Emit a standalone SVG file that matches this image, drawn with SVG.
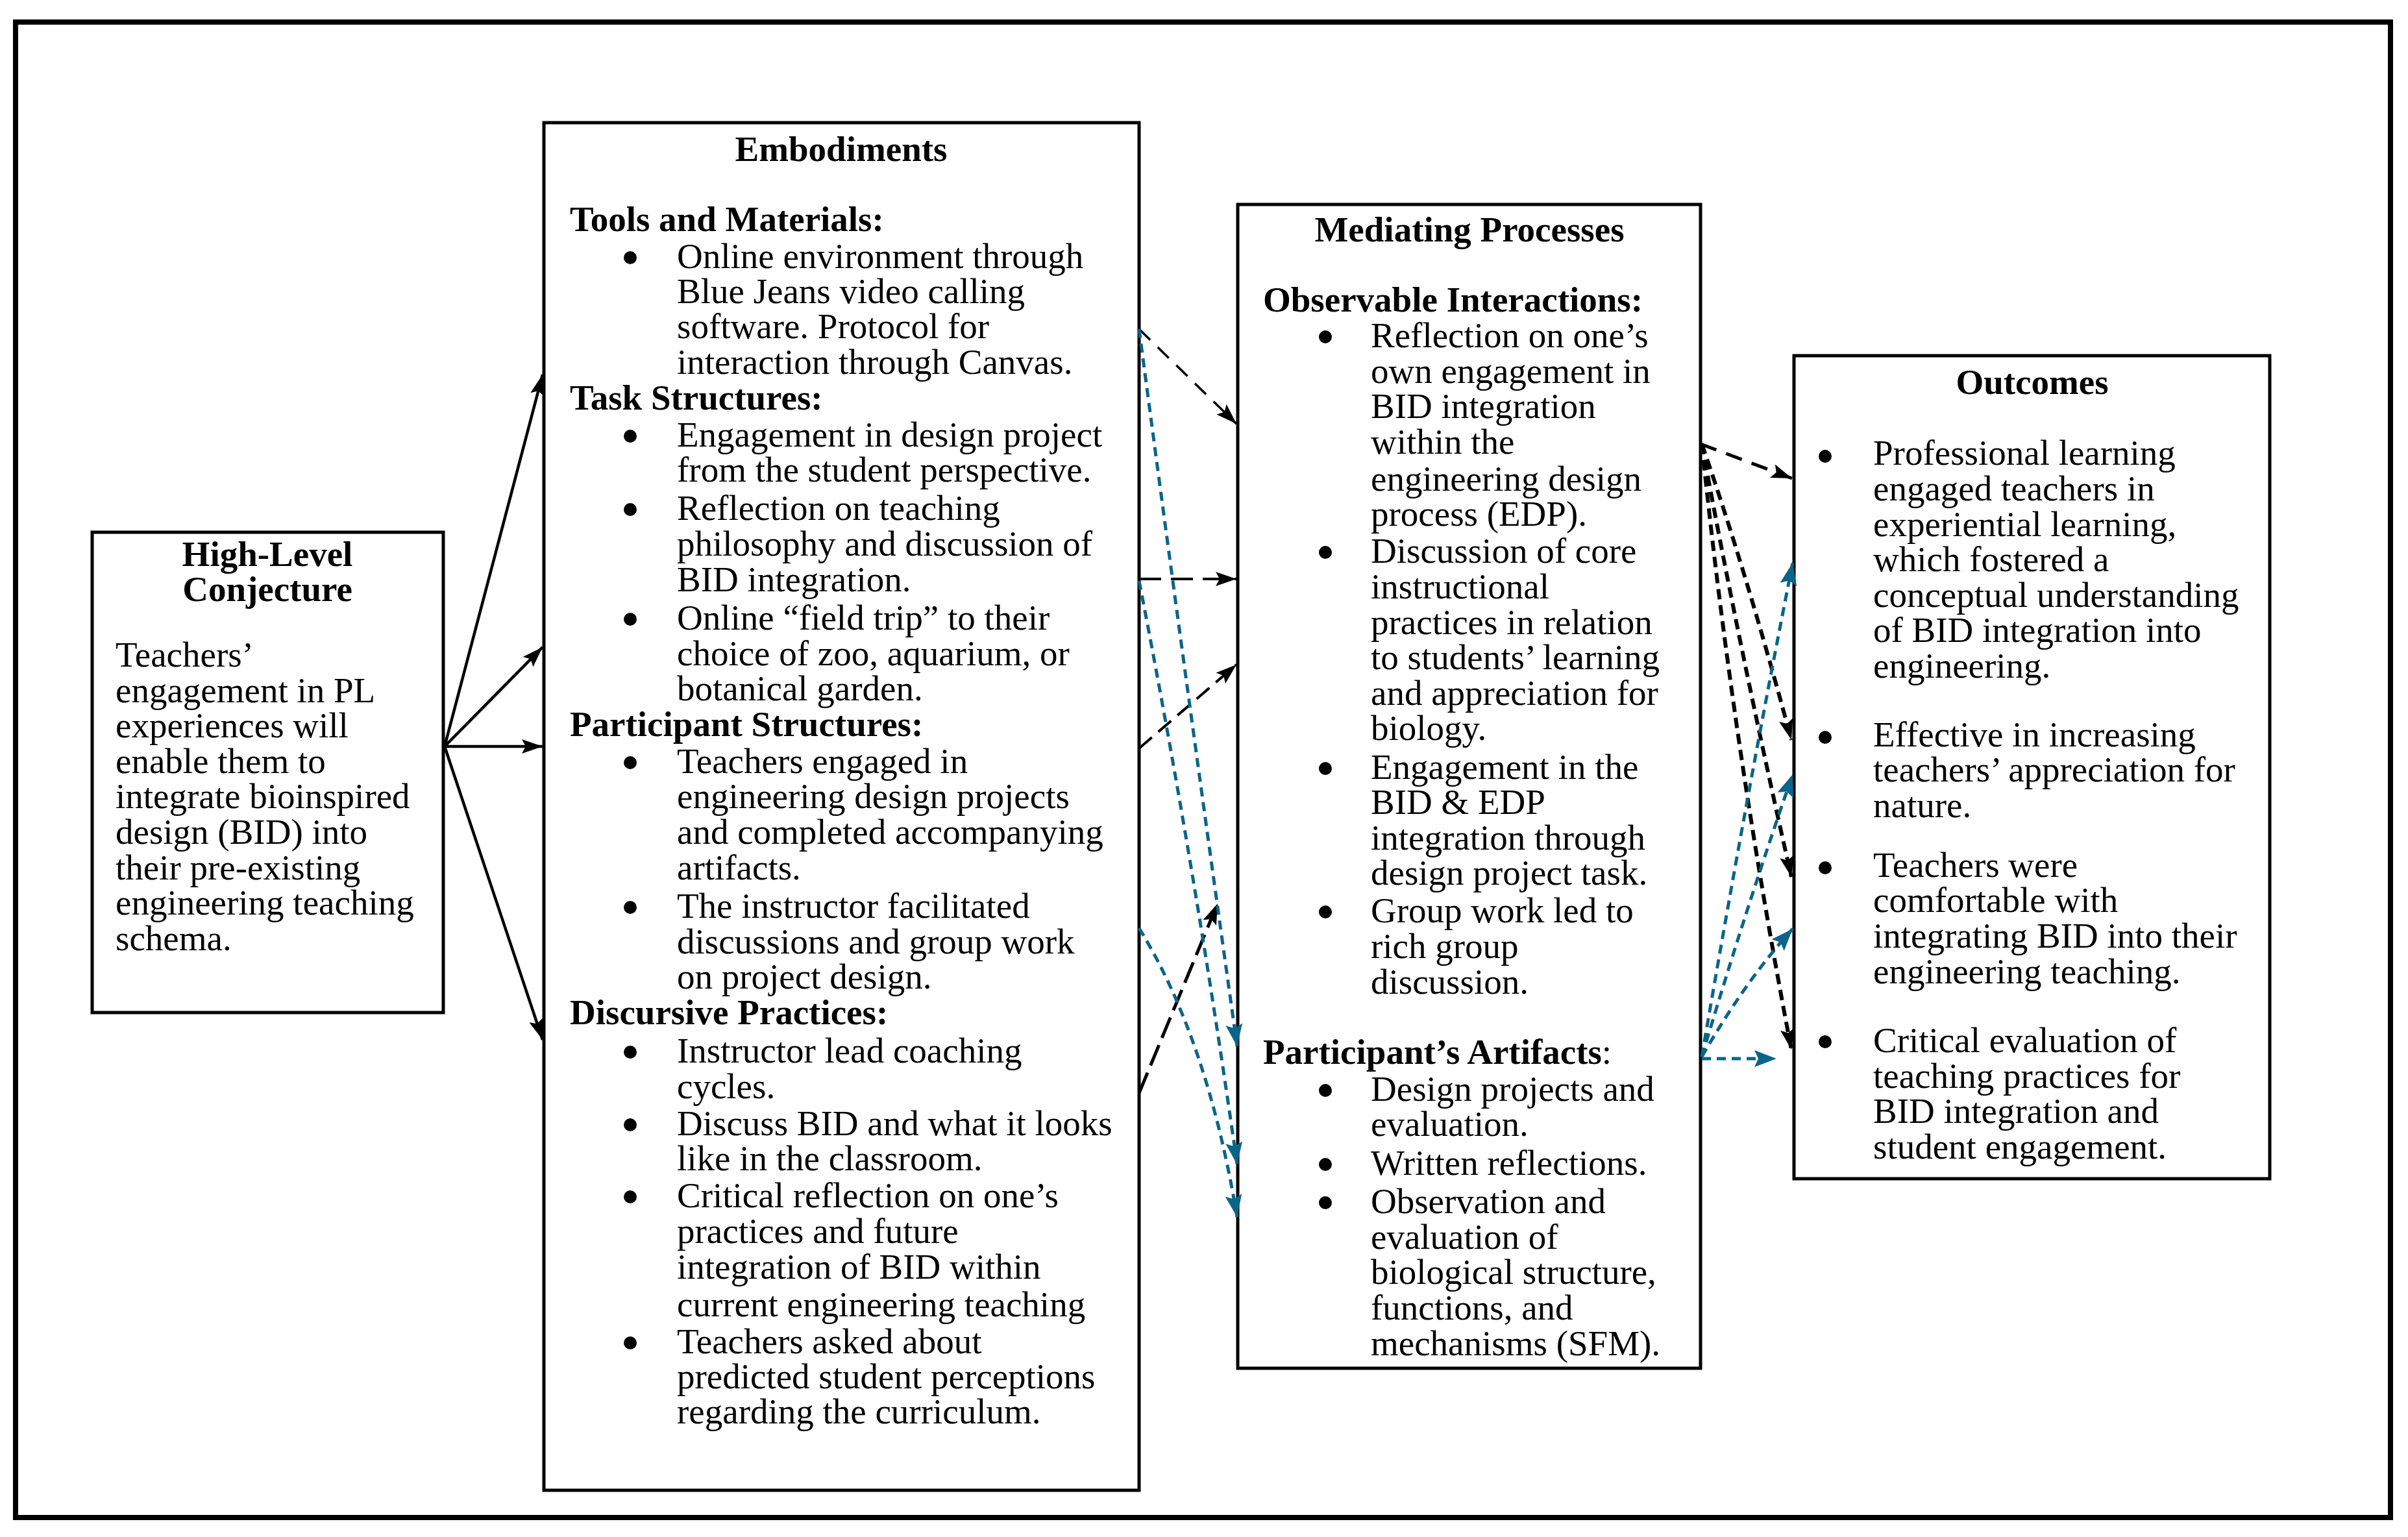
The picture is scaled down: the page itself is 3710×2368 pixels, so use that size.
<svg xmlns="http://www.w3.org/2000/svg" width="3710" height="2368" viewBox="0 0 3710 2368">
<style>
.t{font-family:"Liberation Serif","Times New Roman",serif;font-size:55px;fill:#000}
.b{font-weight:bold}
.c{text-anchor:middle}
.box{fill:#fff;stroke:#000;stroke-width:5}
.bul{fill:#000}
.solid{stroke:#000;stroke-width:4.5;fill:none}
.kd{stroke:#000;fill:none}
.bd{stroke:#0B6489;stroke-width:5;fill:none;stroke-dasharray:14 9}
</style>
<defs>
<marker id="ak" markerUnits="userSpaceOnUse" markerWidth="34" markerHeight="24" refX="32" refY="12" orient="auto"><path d="M0,1 L32,12 L0,23 L6,12 Z" fill="#000"/></marker>
<marker id="ab" markerUnits="userSpaceOnUse" markerWidth="36" markerHeight="28" refX="34" refY="14" orient="auto"><path d="M0,1 L34,14 L0,27 L6,14 Z" fill="#0B6489"/></marker>
</defs>
<rect width="3710" height="2368" fill="#fff"/>
<rect x="24" y="34" width="3659" height="2304" fill="none" stroke="#000" stroke-width="8"/>

<g id="node-conjecture">
<rect class="box" x="142" y="820" width="541" height="740"/>
<text class="t b c" x="412" y="872">High-Level</text>
<text class="t b c" x="412" y="926">Conjecture</text>
<text class="t" x="178" y="1027">Teachers’</text>
<text class="t" x="178" y="1082">engagement in PL</text>
<text class="t" x="178" y="1136">experiences will</text>
<text class="t" x="178" y="1191">enable them to</text>
<text class="t" x="178" y="1245">integrate bioinspired</text>
<text class="t" x="178" y="1300">design (BID) into</text>
<text class="t" x="178" y="1355">their pre-existing</text>
<text class="t" x="178" y="1409">engineering teaching</text>
<text class="t" x="178" y="1464">schema.</text>
</g>

<g id="node-embodiments">
<rect class="box" x="838" y="189" width="917" height="2107"/>
<text class="t b c" x="1296" y="248">Embodiments</text>
<text class="t b" x="878" y="356">Tools and Materials:</text>
<circle class="bul" cx="971" cy="397" r="10"/>
<text class="t" x="1043" y="413">Online environment through</text>
<text class="t" x="1043" y="467">Blue Jeans video calling</text>
<text class="t" x="1043" y="521">software. Protocol for</text>
<text class="t" x="1043" y="576">interaction through Canvas.</text>
<text class="t b" x="878" y="631">Task Structures:</text>
<circle class="bul" cx="971" cy="672" r="10"/>
<text class="t" x="1043" y="688">Engagement in design project</text>
<text class="t" x="1043" y="742">from the student perspective.</text>
<circle class="bul" cx="971" cy="785" r="10"/>
<text class="t" x="1043" y="801">Reflection on teaching</text>
<text class="t" x="1043" y="856">philosophy and discussion of</text>
<text class="t" x="1043" y="911">BID integration.</text>
<circle class="bul" cx="971" cy="954" r="10"/>
<text class="t" x="1043" y="970">Online “field trip” to their</text>
<text class="t" x="1043" y="1025">choice of zoo, aquarium, or</text>
<text class="t" x="1043" y="1079">botanical garden.</text>
<text class="t b" x="878" y="1134">Participant Structures:</text>
<circle class="bul" cx="971" cy="1175" r="10"/>
<text class="t" x="1043" y="1191">Teachers engaged in</text>
<text class="t" x="1043" y="1245">engineering design projects</text>
<text class="t" x="1043" y="1300">and completed accompanying</text>
<text class="t" x="1043" y="1355">artifacts.</text>
<circle class="bul" cx="971" cy="1398" r="10"/>
<text class="t" x="1043" y="1414">The instructor facilitated</text>
<text class="t" x="1043" y="1469">discussions and group work</text>
<text class="t" x="1043" y="1523">on project design.</text>
<text class="t b" x="878" y="1578">Discursive Practices:</text>
<circle class="bul" cx="971" cy="1621" r="10"/>
<text class="t" x="1043" y="1637">Instructor lead coaching</text>
<text class="t" x="1043" y="1692">cycles.</text>
<circle class="bul" cx="971" cy="1733" r="10"/>
<text class="t" x="1043" y="1749">Discuss BID and what it looks</text>
<text class="t" x="1043" y="1803">like in the classroom.</text>
<circle class="bul" cx="971" cy="1844" r="10"/>
<text class="t" x="1043" y="1860">Critical reflection on one’s</text>
<text class="t" x="1043" y="1915">practices and future</text>
<text class="t" x="1043" y="1970">integration of BID within</text>
<text class="t" x="1043" y="2028">current engineering teaching</text>
<circle class="bul" cx="971" cy="2069" r="10"/>
<text class="t" x="1043" y="2085">Teachers asked about</text>
<text class="t" x="1043" y="2139">predicted student perceptions</text>
<text class="t" x="1043" y="2193">regarding the curriculum.</text>
</g>

<g id="node-mediating">
<rect class="box" x="1907" y="315" width="713" height="1793"/>
<text class="t b c" x="2264" y="372">Mediating Processes</text>
<text class="t b" x="1946" y="480">Observable Interactions:</text>
<circle class="bul" cx="2042" cy="519" r="10"/>
<text class="t" x="2112" y="535">Reflection on one’s</text>
<text class="t" x="2112" y="590">own engagement in</text>
<text class="t" x="2112" y="644">BID integration</text>
<text class="t" x="2112" y="699">within the</text>
<text class="t" x="2112" y="756">engineering design</text>
<text class="t" x="2112" y="810">process (EDP).</text>
<circle class="bul" cx="2042" cy="851" r="10"/>
<text class="t" x="2112" y="867">Discussion of core</text>
<text class="t" x="2112" y="922">instructional</text>
<text class="t" x="2112" y="977">practices in relation</text>
<text class="t" x="2112" y="1031">to students’ learning</text>
<text class="t" x="2112" y="1086">and appreciation for</text>
<text class="t" x="2112" y="1140">biology.</text>
<circle class="bul" cx="2042" cy="1184" r="10"/>
<text class="t" x="2112" y="1200">Engagement in the</text>
<text class="t" x="2112" y="1254">BID &amp; EDP</text>
<text class="t" x="2112" y="1309">integration through</text>
<text class="t" x="2112" y="1363">design project task.</text>
<circle class="bul" cx="2042" cy="1405" r="10"/>
<text class="t" x="2112" y="1421">Group work led to</text>
<text class="t" x="2112" y="1476">rich group</text>
<text class="t" x="2112" y="1531">discussion.</text>
<text class="t" x="1946" y="1639"><tspan class="b">Participant’s Artifacts</tspan>:</text>
<circle class="bul" cx="2042" cy="1680" r="10"/>
<text class="t" x="2112" y="1696">Design projects and</text>
<text class="t" x="2112" y="1750">evaluation.</text>
<circle class="bul" cx="2042" cy="1794" r="10"/>
<text class="t" x="2112" y="1810">Written reflections.</text>
<circle class="bul" cx="2042" cy="1853" r="10"/>
<text class="t" x="2112" y="1869">Observation and</text>
<text class="t" x="2112" y="1924">evaluation of</text>
<text class="t" x="2112" y="1978">biological structure,</text>
<text class="t" x="2112" y="2033">functions, and</text>
<text class="t" x="2112" y="2088">mechanisms (SFM).</text>
</g>

<g id="node-outcomes">
<rect class="box" x="2764" y="548" width="733" height="1268"/>
<text class="t b c" x="3131" y="607">Outcomes</text>
<circle class="bul" cx="2812" cy="703" r="10"/>
<text class="t" x="2886" y="716">Professional learning</text>
<text class="t" x="2886" y="771">engaged teachers in</text>
<text class="t" x="2886" y="826">experiential learning,</text>
<text class="t" x="2886" y="880">which fostered a</text>
<text class="t" x="2886" y="935">conceptual understanding</text>
<text class="t" x="2886" y="989">of BID integration into</text>
<text class="t" x="2886" y="1044">engineering.</text>
<circle class="bul" cx="2812" cy="1136" r="10"/>
<text class="t" x="2886" y="1150">Effective in increasing</text>
<text class="t" x="2886" y="1204">teachers’ appreciation for</text>
<text class="t" x="2886" y="1259">nature.</text>
<circle class="bul" cx="2812" cy="1337" r="10"/>
<text class="t" x="2886" y="1351">Teachers were</text>
<text class="t" x="2886" y="1405">comfortable with</text>
<text class="t" x="2886" y="1460">integrating BID into their</text>
<text class="t" x="2886" y="1515">engineering teaching.</text>
<circle class="bul" cx="2812" cy="1605" r="10"/>
<text class="t" x="2886" y="1621">Critical evaluation of</text>
<text class="t" x="2886" y="1676">teaching practices for</text>
<text class="t" x="2886" y="1730">BID integration and</text>
<text class="t" x="2886" y="1785">student engagement.</text>
</g>

<g id="connectors">
<line class="solid" x1="685" y1="1150" x2="836" y2="577" marker-end="url(#ak)"/>
<line class="solid" x1="685" y1="1150" x2="836" y2="997" marker-end="url(#ak)"/>
<line class="solid" x1="685" y1="1150" x2="836" y2="1150" stroke-width="3.5" marker-end="url(#ak)"/>
<line class="solid" x1="685" y1="1150" x2="836" y2="1602" marker-end="url(#ak)"/>

<line class="kd" x1="1755" y1="507" x2="1905" y2="653" stroke-width="3.5" stroke-dasharray="24 16" marker-end="url(#ak)"/>
<line class="kd" x1="1755" y1="892" x2="1905" y2="892" stroke-width="4" stroke-dasharray="34 15" marker-end="url(#ak)"/>
<line class="kd" x1="1755" y1="1153" x2="1905" y2="1024" stroke-width="4" stroke-dasharray="26 13" marker-end="url(#ak)"/>
<line class="kd" x1="1755" y1="1684" x2="1876" y2="1392" stroke-width="5" stroke-dasharray="34 12" marker-end="url(#ak)"/>

<path class="bd" d="M1755,507 Q1820,1000 1906,1612" marker-end="url(#ab)"/>
<path class="bd" d="M1755,895 Q1840,1330 1906,1794" marker-end="url(#ab)"/>
<path class="bd" d="M1755,1430 Q1860,1600 1906,1875" marker-end="url(#ab)"/>

<line class="kd" x1="2620" y1="684" x2="2761" y2="737" stroke-width="5" stroke-dasharray="26 16" marker-end="url(#ak)"/>
<path class="kd" d="M2622,684 Q2690,880 2760,1140" stroke-width="6" stroke-dasharray="16 9" marker-end="url(#ak)"/>
<path class="kd" d="M2622,684 Q2680,1000 2760,1351" stroke-width="6" stroke-dasharray="16 9" marker-end="url(#ak)"/>
<path class="kd" d="M2622,684 Q2670,1150 2760,1617" stroke-width="6" stroke-dasharray="16 9" marker-end="url(#ak)"/>

<path class="bd" d="M2622,1628 Q2690,1230 2762,867" stroke-width="6" marker-end="url(#ab)"/>
<path class="bd" d="M2622,1628 Q2690,1400 2762,1193" stroke-width="6" marker-end="url(#ab)"/>
<path class="bd" d="M2622,1628 Q2690,1510 2762,1431" stroke-width="6" marker-end="url(#ab)"/>
<line class="bd" x1="2622" y1="1631" x2="2737" y2="1631" stroke-width="5" stroke-dasharray="30 20" marker-end="url(#ab)"/>
</g>
</svg>
